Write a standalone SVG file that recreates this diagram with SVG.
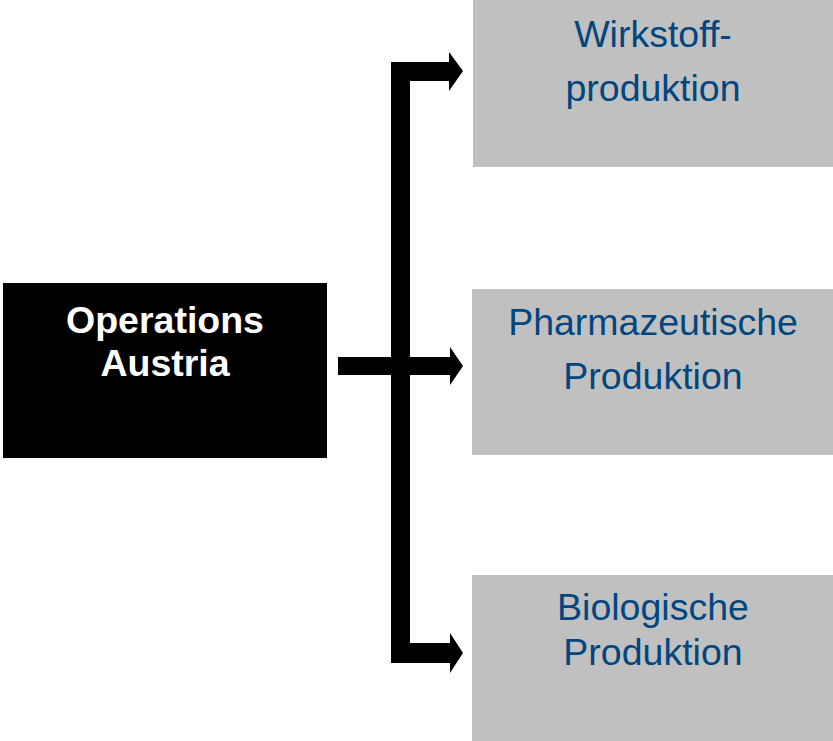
<svg xmlns="http://www.w3.org/2000/svg" width="833" height="741" viewBox="0 0 833 741">
<style>
.box{fill:#C0C0C0}
.lbl{font-family:"Liberation Sans",Arial,sans-serif;font-size:37.5px;fill:#00467F;text-anchor:middle}
.root{font-family:"Liberation Sans",Arial,sans-serif;font-size:37.5px;font-weight:bold;fill:#FFFFFF;text-anchor:middle}
.conn{fill:#000000}
</style>
<rect width="833" height="741" fill="#FFFFFF"/>
<g id="node-operations-austria">
<rect x="3" y="283" width="324" height="175" fill="#000000"/>
<text class="root" x="165" y="333">Operations</text>
<text class="root" x="165" y="376">Austria</text>
</g>
<g id="node-wirkstoff">
<rect class="box" x="473" y="0" width="360" height="167"/>
<text class="lbl" x="653" y="47">Wirkstoff-</text>
<text class="lbl" x="653" y="101">produktion</text>
</g>
<g id="node-pharma">
<rect class="box" x="472" y="289" width="361" height="166"/>
<text class="lbl" x="653" y="335">Pharmazeutische</text>
<text class="lbl" x="653" y="389">Produktion</text>
</g>
<g id="node-bio">
<rect class="box" x="472" y="575" width="361" height="166"/>
<text class="lbl" x="653" y="620">Biologische</text>
<text class="lbl" x="653" y="665">Produktion</text>
</g>
<g id="connectors">
<rect class="conn" x="391" y="62" width="19" height="601"/>
<polygon class="conn" points="391,62 449,62 449,52 463,71 449,91 449,81 391,81"/>
<polygon class="conn" points="338,357 450,357 450,347 463,366 450,385 450,375 338,375"/>
<polygon class="conn" points="391,643 450,643 450,633 463,653 450,673 450,663 391,663"/>
</g>
</svg>
